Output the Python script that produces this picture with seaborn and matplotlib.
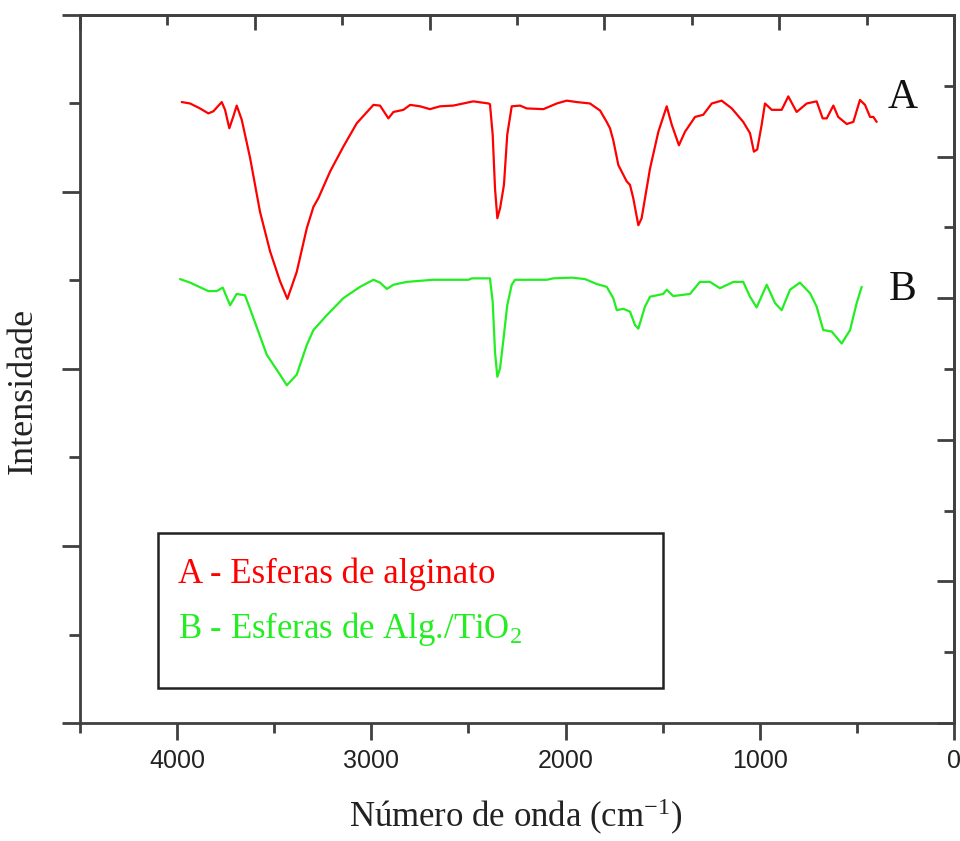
import matplotlib
matplotlib.use("Agg")
import matplotlib.pyplot as plt
import seaborn as sns
import pandas as pd
from matplotlib.ticker import MultipleLocator
from matplotlib.patches import Rectangle

# FTIR spectra (wavenumber in cm-1, intensity in a.u.)
wavenumber_a = [3976, 3933, 3882, 3839, 3813, 3770, 3753, 3731, 3710, 3693, 3667, 3624,
                3573, 3521, 3470, 3432, 3384, 3332, 3298, 3273, 3212, 3144, 3075, 2989,
                2955, 2912, 2886, 2835, 2800, 2749, 2698, 2646, 2578, 2475, 2397, 2389,
                2375, 2363, 2351, 2337, 2317, 2300, 2277, 2234, 2200, 2114, 2045, 1994,
                1942, 1874, 1822, 1788, 1771, 1754, 1728, 1685, 1668, 1651, 1625, 1608,
                1565, 1522, 1479, 1453, 1416, 1385, 1333, 1291, 1247, 1196, 1144, 1085,
                1050, 1030, 1013, 990, 973, 938, 887, 853, 810, 758, 707, 676, 655, 621,
                596, 552, 518, 484, 458, 432, 415, 398]
intensity_a = [87.7, 87.5, 86.8, 86.1, 86.4, 87.7, 86.6, 84.0, 85.7, 87.2, 85.2, 79.8,
               72.2, 66.6, 62.4, 59.9, 63.7, 69.9, 72.9, 74.1, 77.9, 81.4, 84.7, 87.3,
               87.2, 85.4, 86.3, 86.6, 87.3, 87.1, 86.7, 87.1, 87.2, 87.8, 87.5, 87.4,
               83.1, 75.5, 71.3, 72.7, 76.0, 83.1, 87.1, 87.2, 86.8, 86.7, 87.5, 87.9,
               87.7, 87.5, 86.5, 84.9, 84.0, 82.3, 78.8, 76.5, 76.0, 74.1, 70.3, 71.3,
               78.3, 83.5, 87.1, 84.5, 81.6, 83.5, 85.6, 85.9, 87.5, 87.9, 86.8, 84.9,
               83.3, 80.7, 81.0, 84.5, 87.5, 86.6, 86.6, 88.5, 86.3, 87.5, 87.8, 85.4,
               85.4, 87.2, 85.6, 84.6, 84.9, 88.0, 87.3, 85.6, 85.6, 84.9]

wavenumber_b = [3985, 3933, 3839, 3796, 3765, 3727, 3693, 3650, 3607, 3538, 3470, 3435,
                3384, 3332, 3298, 3229, 3144, 3058, 2989, 2955, 2920, 2886, 2818, 2681,
                2500, 2483, 2389, 2375, 2363, 2351, 2337, 2317, 2300, 2277, 2260, 2097,
                2063, 1968, 1900, 1839, 1788, 1754, 1736, 1702, 1668, 1642, 1625, 1591,
                1565, 1497, 1479, 1445, 1359, 1308, 1256, 1205, 1136, 1085, 1050, 1016,
                964, 921, 887, 844, 793, 741, 707, 673, 630, 578, 535, 501, 475]
intensity_b = [62.7, 62.2, 61.0, 61.0, 61.5, 59.0, 60.6, 60.4, 57.2, 52.0, 49.2, 47.7,
               49.2, 53.4, 55.5, 57.6, 60.0, 61.6, 62.6, 62.2, 61.3, 61.9, 62.3, 62.6,
               62.6, 62.8, 62.8, 59.5, 52.4, 48.9, 50.1, 54.8, 59.0, 61.9, 62.6, 62.6,
               62.8, 62.9, 62.7, 62.0, 61.6, 60.0, 58.3, 58.5, 58.1, 56.2, 55.7, 58.8,
               60.2, 60.6, 61.2, 60.3, 60.6, 62.3, 62.3, 61.4, 62.3, 62.3, 60.2, 58.7,
               61.9, 59.3, 58.3, 61.2, 62.2, 60.7, 58.8, 55.5, 55.3, 53.6, 55.5, 59.3, 61.6]

legend_texts = ["A - Esferas de alginato", r"B - Esferas de Alg./TiO$_2$"]
curve_labels = ["A", "B"]

sns.set_style("ticks")
plt.rcParams["mathtext.fontset"] = "custom"
plt.rcParams["mathtext.rm"] = "Liberation Serif"
plt.rcParams["mathtext.it"] = "Liberation Serif:italic"

axis_col = "#404040"
red = "#ff0000"
green = "#22ee22"
serif = "Liberation Serif"

df_a = pd.DataFrame({"wn": wavenumber_a, "I": intensity_a})
df_b = pd.DataFrame({"wn": wavenumber_b, "I": intensity_b})

fig = plt.figure(figsize=(9.6, 8.41), dpi=100)
ax = fig.add_axes([0.0833, 0.1403, 0.9104, 0.8419])

sns.lineplot(data=df_a, x="wn", y="I", color=red, lw=1.6, estimator=None, ax=ax)
sns.lineplot(data=df_b, x="wn", y="I", color=green, lw=1.6, estimator=None, ax=ax)

ax.set_xlim(4500, 0)
ax.set_ylim(0, 100)

for s in ax.spines.values():
    s.set_visible(True)
    s.set_color(axis_col)
    s.set_linewidth(2)

ax.xaxis.set_major_locator(MultipleLocator(1000))
ax.xaxis.set_minor_locator(MultipleLocator(500))
ax.yaxis.set_major_locator(MultipleLocator(25))
ax.yaxis.set_minor_locator(MultipleLocator(12.5))
ax.tick_params(axis="x", which="major", direction="out", length=12, width=2,
               pad=7, labelsize=18, color=axis_col, labelcolor="#222222")
ax.tick_params(axis="x", which="minor", direction="out", length=7, width=2, color=axis_col)
ax.tick_params(axis="y", which="major", direction="out", length=13, width=2,
               color=axis_col, labelleft=False)
ax.tick_params(axis="y", which="minor", direction="out", length=8, width=2, color=axis_col)
for lab in ax.get_xticklabels():
    lab.set_fontfamily("Liberation Sans")

# top and right axes carry their own inward ticks
top = ax.secondary_xaxis("top")
top.xaxis.set_major_locator(MultipleLocator(900))
top.xaxis.set_minor_locator(MultipleLocator(450))
top.tick_params(which="major", direction="in", length=11, width=2, color=axis_col, labeltop=False)
top.tick_params(which="minor", direction="in", length=7, width=2, color=axis_col)
top.spines["top"].set_color(axis_col)
top.spines["top"].set_linewidth(2)

right = ax.secondary_yaxis("right")
right.yaxis.set_major_locator(MultipleLocator(20))
right.yaxis.set_minor_locator(MultipleLocator(10))
right.tick_params(which="major", direction="in", length=12, width=2, color=axis_col, labelright=False)
right.tick_params(which="minor", direction="in", length=7, width=2, color=axis_col)
right.spines["right"].set_color(axis_col)
right.spines["right"].set_linewidth(2)

ax.set_xlabel(r"Número de onda (cm$^{-1}$)", fontsize=25, family=serif, color="#222222")
ax.set_ylabel("Intensidade", fontsize=26, family=serif, color="#222222")
ax.xaxis.set_label_coords(0.499, -0.104)
ax.yaxis.set_label_coords(-0.046, 0.469)

ax.text(262, 86.9, curve_labels[0], fontsize=30, family=serif, color="#111111",
        ha="center", va="baseline")
ax.text(262, 59.7, curve_labels[1], fontsize=30, family=serif, color="#111111",
        ha="center", va="baseline")

# framed legend box
ax.add_patch(Rectangle((1498, 4.9), 2600, 21.9, fill=False, edgecolor="#222222", lw=1.8))
ax.text(3995, 19.8, legend_texts[0], fontsize=25, family=serif, color=red, va="baseline")
ax.text(3995, 12.0, legend_texts[1], fontsize=25, family=serif, color=green, va="baseline")

fig.savefig("out.png", dpi=100)
